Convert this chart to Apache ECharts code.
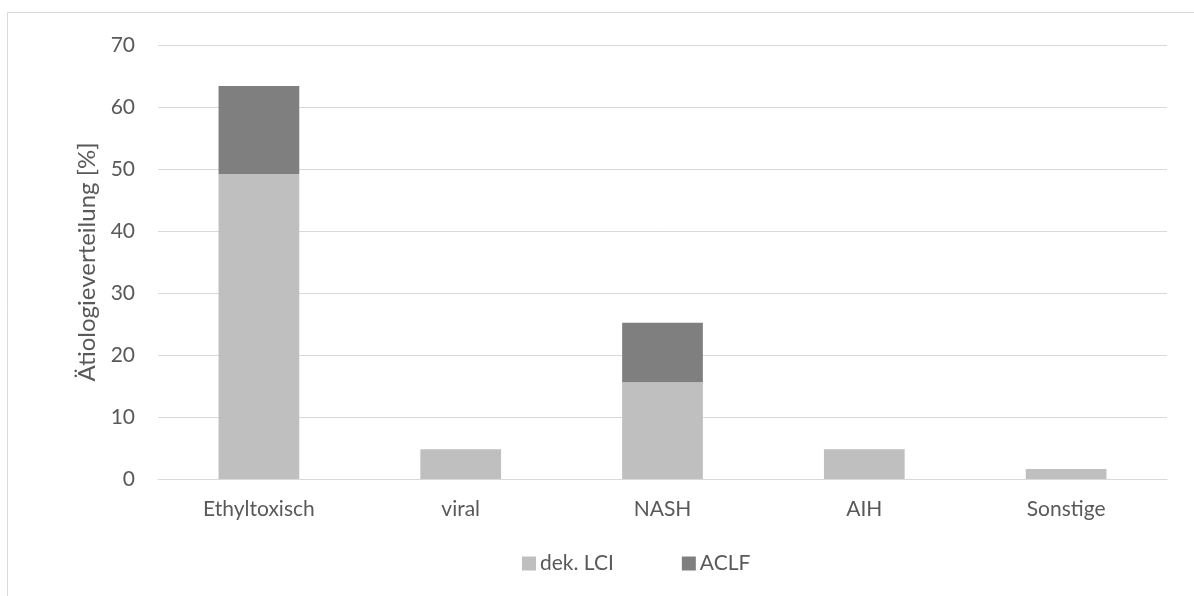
<!DOCTYPE html>
<html>
<head>
<meta charset="utf-8">
<script src="https://cdn.jsdelivr.net/npm/echarts@6/dist/echarts.min.js"></script>
<style>
  html, body { margin: 0; padding: 0; background: #fff; }
  #chart { width: 1194px; height: 596px; }
</style>
</head>
<body>
<div id="chart"></div>
<script>
// Aetiology distribution, stacked by group
const categories = ['Ethyltoxisch', 'viral', 'NASH', 'AIH', 'Sonstige'];
const dekLCI = [49.2, 4.8, 15.6, 4.8, 1.6];
const aclf = [14.2, 0, 9.6, 0, 0];
const seriesNames = ['dek. LCI', 'ACLF'];
const yTicks = { min: 0, max: 70, interval: 10 };

const FONT = 'Lato, "Open Sans", sans-serif';
const TEXT = '#595959';

const chart = echarts.init(document.getElementById('chart'), null, { renderer: 'canvas' });
chart.setOption({
  backgroundColor: '#fff',
  animation: false,
  textStyle: { fontFamily: FONT, color: TEXT },
  graphic: [{
    type: 'rect',
    shape: { x: 7.5, y: 12.5, width: 1200, height: 600 },
    style: { fill: 'none', stroke: '#d9d9d9', lineWidth: 1 },
    silent: true
  }],
  grid: { left: 158, right: 27, top: 45, bottom: 117, containLabel: false },
  legend: {
    top: 548,
    left: 517,
    itemWidth: 14,
    itemHeight: 14,
    itemGap: 68,
    icon: 'rect',
    textStyle: { fontFamily: FONT, fontSize: 21, color: TEXT, padding: [0, 0, 0, -1] },
    data: seriesNames
  },
  xAxis: {
    type: 'category',
    data: categories,
    axisLine: { show: true, lineStyle: { color: '#d9d9d9', width: 1 } },
    axisTick: { show: false },
    axisLabel: { fontFamily: FONT, fontSize: 21, color: TEXT, margin: 20 }
  },
  yAxis: {
    type: 'value',
    min: yTicks.min,
    max: yTicks.max,
    interval: yTicks.interval,
    name: 'Ätiologieverteilung [%]',
    nameLocation: 'middle',
    nameGap: 56,
    nameRotate: 90,
    nameTextStyle: { fontFamily: FONT, fontSize: 24, color: TEXT },
    axisLine: { show: false },
    axisTick: { show: false },
    axisLabel: { fontFamily: FONT, fontSize: 21, color: TEXT, margin: 23 },
    splitLine: { show: true, lineStyle: { color: '#d9d9d9', width: 1 } }
  },
  series: [
    {
      name: seriesNames[0],
      type: 'bar',
      stack: 'total',
      data: dekLCI,
      barCategoryGap: '60%',
      itemStyle: { color: '#bfbfbf' }
    },
    {
      name: seriesNames[1],
      type: 'bar',
      stack: 'total',
      data: aclf,
      barCategoryGap: '60%',
      itemStyle: { color: '#7f7f7f' }
    }
  ]
});
</script>
</body>
</html>
